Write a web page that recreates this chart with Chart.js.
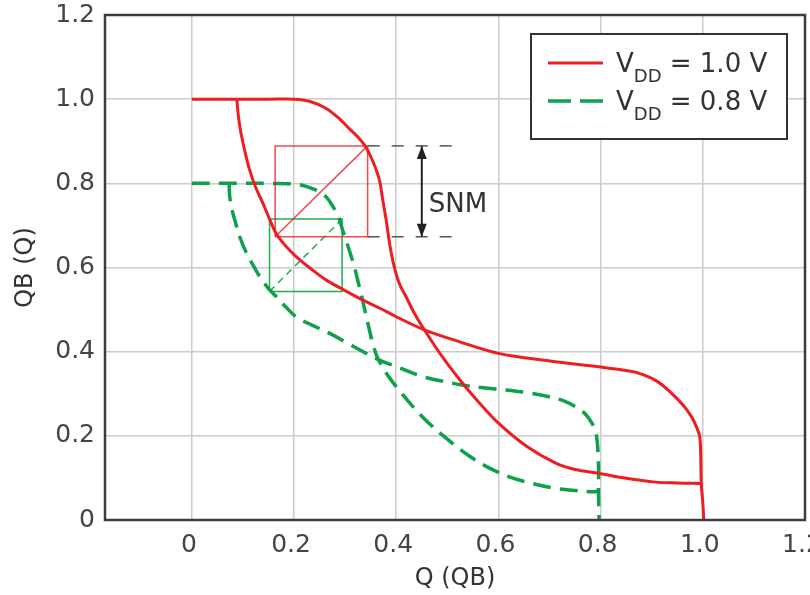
<!DOCTYPE html>
<html lang="en">
<head>
<meta charset="UTF-8">
<title>SRAM butterfly curves - SNM</title>
<style>
    html, body {
        margin: 0;
        padding: 0;
        background: #fff;
    }
    #wrap {
        width: 810px;
        height: 595px;
        position: relative;
    }
</style>
</head>
<body>
<div id="wrap"><canvas id="snmChart"></canvas></div>

<script src="https://cdn.jsdelivr.net/npm/chart.js"></script>
<script>
    // tick labels
    const xTicks = [0, 0.2, 0.4, 0.6, 0.8, 1.0, 1.2];
    const yTicks = [0, 0.2, 0.4, 0.6, 0.8, 1.0, 1.2];

    // VDD = 1.0 V, QB as function of Q
    const red1X = [0, 0.05, 0.1, 0.15, 0.2, 0.23, 0.263, 0.29, 0.308, 0.325, 0.341, 0.355, 0.367, 0.373, 0.38, 0.388, 0.396, 0.406, 0.419, 0.436, 0.455, 0.49, 0.529, 0.565, 0.6, 0.655, 0.712, 0.75, 0.796, 0.85, 0.907, 0.95, 0.995];
    const red1Y = [1.0, 1.0, 1.0, 1.0, 1.0, 0.995, 0.978, 0.952, 0.93, 0.91, 0.885, 0.85, 0.808, 0.765, 0.715, 0.65, 0.602, 0.562, 0.531, 0.49, 0.452, 0.388, 0.326, 0.275, 0.23, 0.175, 0.135, 0.12, 0.111, 0.099, 0.09, 0.088, 0.087];
    // VDD = 1.0 V, mirrored curve
    const red2X = [0.088, 0.091, 0.096, 0.104, 0.113, 0.125, 0.139, 0.152, 0.165, 0.183, 0.204, 0.233, 0.263, 0.3, 0.334, 0.37, 0.4, 0.455, 0.523, 0.6, 0.7, 0.796, 0.84, 0.874, 0.91, 0.939, 0.962, 0.978, 0.988, 0.994, 0.996, 0.997, 1.0, 1.002];
    const red2Y = [1.0, 0.96, 0.92, 0.875, 0.832, 0.79, 0.753, 0.715, 0.681, 0.652, 0.626, 0.597, 0.57, 0.545, 0.523, 0.502, 0.483, 0.452, 0.424, 0.396, 0.378, 0.364, 0.357, 0.349, 0.33, 0.301, 0.272, 0.245, 0.22, 0.198, 0.15, 0.087, 0.04, 0];

    // VDD = 0.8 V
    const green1X = [0, 0.05, 0.1, 0.15, 0.205, 0.23, 0.25, 0.265, 0.276, 0.287, 0.295, 0.307, 0.318, 0.326, 0.334, 0.344, 0.354, 0.364, 0.38, 0.4, 0.43, 0.464, 0.5, 0.536, 0.575, 0.62, 0.665, 0.712, 0.75, 0.79, 0.797];
    const green1Y = [0.8, 0.8, 0.8, 0.8, 0.798, 0.79, 0.78, 0.765, 0.745, 0.72, 0.689, 0.645, 0.602, 0.563, 0.523, 0.47, 0.42, 0.384, 0.35, 0.317, 0.273, 0.23, 0.192, 0.158, 0.128, 0.103, 0.087, 0.075, 0.07, 0.067, 0.072];
    const green2X = [0.073, 0.074, 0.078, 0.084, 0.094, 0.107, 0.12, 0.133, 0.148, 0.165, 0.184, 0.204, 0.235, 0.269, 0.305, 0.341, 0.367, 0.41, 0.451, 0.49, 0.529, 0.57, 0.614, 0.66, 0.699, 0.728, 0.751, 0.77, 0.783, 0.79, 0.793, 0.795, 0.796, 0.796, 0.797];
    const green2Y = [0.8, 0.77, 0.74, 0.713, 0.672, 0.634, 0.605, 0.578, 0.553, 0.531, 0.506, 0.483, 0.463, 0.444, 0.42, 0.396, 0.38, 0.36, 0.341, 0.33, 0.321, 0.314, 0.309, 0.302, 0.293, 0.283, 0.269, 0.252, 0.23, 0.21, 0.19, 0.16, 0.12, 0.06, 0];

    // SNM squares [min, max]
    const redBoxX = [0.163, 0.344];
    const redBoxY = [0.673, 0.889];
    const greenBoxX = [0.152, 0.294];
    const greenBoxY = [0.543, 0.715];

    // SNM marker
    const snmArrowX = 0.45;
    const snmGuideEnd = 0.517;

    const legendNames = [
        { main: 'V', sub: 'DD', rest: ' = 1.0 V' },
        { main: 'V', sub: 'DD', rest: ' = 0.8 V' }
    ];

    const RED = '#ee1d23';
    const GREEN = '#0ea04a';
    const FONT = 'DejaVu Sans';

    function pts(xs, ys) {
        return xs.map((x, i) => ({ x: x, y: ys[i] }));
    }
    function box(bx, by) {
        return [
            { x: bx[0], y: by[0] }, { x: bx[1], y: by[0] },
            { x: bx[1], y: by[1] }, { x: bx[0], y: by[1] },
            { x: bx[0], y: by[0] }
        ];
    }
    function line(color, width, dash, data, tension) {
        return {
            data: data,
            showLine: true,
            borderColor: color,
            borderWidth: width,
            borderDash: dash || [],
            pointRadius: 0,
            pointHoverRadius: 0,
            fill: false,
            tension: tension || 0
        };
    }

    const datasets = [
        line(RED, 3, null, pts(red1X, red1Y), 0.35),
        line(RED, 3, null, pts(red2X, red2Y), 0.35),
        line('rgba(238,29,35,0.8)', 1.5, null, box(redBoxX, redBoxY)),
        line('rgba(238,29,35,0.8)', 1.5, null, [{ x: redBoxX[0], y: redBoxY[0] }, { x: redBoxX[1], y: redBoxY[1] }]),
        line(GREEN, 3.5, [18, 9], pts(green1X, green1Y), 0.35),
        line(GREEN, 3.5, [18, 9], pts(green2X, green2Y), 0.35),
        line('#1fae55', 1.5, null, box(greenBoxX, greenBoxY)),
        line('#1fae55', 1.5, [7, 5], [{ x: greenBoxX[0], y: greenBoxY[0] }, { x: greenBoxX[1], y: greenBoxY[1] }]),
        // SNM guides
        line('#555', 1.5, [12, 12], [{ x: redBoxX[1], y: redBoxY[1] }, { x: snmGuideEnd, y: redBoxY[1] }]),
        line('#555', 1.5, [12, 12], [{ x: redBoxX[1], y: redBoxY[0] }, { x: snmGuideEnd, y: redBoxY[0] }]),
        line('#222', 2, null, [{ x: snmArrowX, y: redBoxY[0] }, { x: snmArrowX, y: redBoxY[1] }])
    ];

    const decor = {
        id: 'decor',
        afterDatasetsDraw(chart) {
            const ctx = chart.ctx;
            const a = chart.chartArea;
            const xs = chart.scales.x, ys = chart.scales.y;

            // arrow heads + SNM label
            const ax = xs.getPixelForValue(snmArrowX);
            const top = ys.getPixelForValue(redBoxY[1]);
            const bot = ys.getPixelForValue(redBoxY[0]);
            ctx.save();
            ctx.fillStyle = '#222';
            ctx.beginPath();
            ctx.moveTo(ax, top); ctx.lineTo(ax - 5, top + 13); ctx.lineTo(ax + 5, top + 13); ctx.closePath();
            ctx.moveTo(ax, bot); ctx.lineTo(ax - 5, bot - 13); ctx.lineTo(ax + 5, bot - 13); ctx.closePath();
            ctx.fill();
            ctx.fillStyle = '#333';
            ctx.font = '26px "' + FONT + '"';
            ctx.textBaseline = 'middle';
            ctx.textAlign = 'left';
            ctx.fillText('SNM', ax + 7, (top + bot) / 2 + 14);

            // frame
            ctx.strokeStyle = '#3c3c3c';
            ctx.lineWidth = 2.5;
            ctx.strokeRect(a.left, a.top, a.right - a.left, a.bottom - a.top);
            ctx.restore();
        },
        afterDraw(chart) {
            const ctx = chart.ctx;
            const a = chart.chartArea;
            const bx = a.right - 274, by = a.top + 19, bw = 256, bh = 105;
            ctx.save();
            ctx.fillStyle = '#fff';
            ctx.fillRect(bx, by, bw, bh);
            ctx.strokeStyle = '#333';
            ctx.lineWidth = 2;
            ctx.strokeRect(bx, by, bw, bh);

            const rows = [
                { color: RED, width: 3, dash: [], y: by + 29 },
                { color: GREEN, width: 3.5, dash: [23, 9], y: by + 67 }
            ];
            rows.forEach((r, i) => {
                ctx.strokeStyle = r.color;
                ctx.lineWidth = r.width;
                ctx.setLineDash(r.dash);
                ctx.beginPath();
                ctx.moveTo(bx + 17, r.y);
                ctx.lineTo(bx + 72, r.y);
                ctx.stroke();
                ctx.setLineDash([]);

                const n = legendNames[i];
                const base = r.y + 9;
                let tx = bx + 85;
                ctx.fillStyle = '#333';
                ctx.textBaseline = 'alphabetic';
                ctx.textAlign = 'left';
                ctx.font = '26px "' + FONT + '"';
                ctx.fillText(n.main, tx, base);
                tx += ctx.measureText(n.main).width;
                ctx.font = '18px "' + FONT + '"';
                ctx.fillText(n.sub, tx, base + 10);
                tx += ctx.measureText(n.sub).width;
                ctx.font = '26px "' + FONT + '"';
                ctx.fillText(n.rest, tx, base);
            });
            ctx.restore();
        }
    };

    const tickFont = { family: FONT, size: 25 };
    const fmt = v => (v === 0 ? '0' : Number(v).toFixed(1));

    window.onload = function() {
        const ctx = document.getElementById('snmChart').getContext('2d');
        window.snmChart = new Chart(ctx, {
            type: 'scatter',
            data: { datasets: datasets },
            options: {
                responsive: true,
                maintainAspectRatio: false,
                animation: false,
                events: [],
                layout: { padding: { left: 0, right: 5, top: 15, bottom: 0 } },
                plugins: {
                    legend: { display: false },
                    tooltip: { enabled: false }
                },
                scales: {
                    x: {
                        type: 'linear',
                        min: -0.17,
                        max: 1.2,
                        afterBuildTicks: s => { s.ticks = xTicks.map(v => ({ value: v })); },
                        afterFit: s => { s.height = 75; s.paddingLeft = 0; s.paddingRight = 0; },
                        grid: { color: '#cccccc', lineWidth: 1.5, drawTicks: false },
                        border: { display: false },
                        ticks: { padding: 10, labelOffset: -3, color: '#444', font: tickFont, callback: fmt, autoSkip: false, maxRotation: 0 },
                        title: { display: true, text: 'Q (QB)', color: '#333', font: { family: FONT, size: 24 }, padding: { top: 0, bottom: 2 } }
                    },
                    y: {
                        type: 'linear',
                        min: 0,
                        max: 1.2,
                        afterBuildTicks: s => { s.ticks = yTicks.map(v => ({ value: v })); },
                        afterFit: s => { s.width = 105; s.paddingTop = 0; s.paddingBottom = 0; },
                        grid: { color: '#cccccc', lineWidth: 1.5, drawTicks: false },
                        border: { display: false },
                        ticks: { padding: 10, color: '#444', font: tickFont, callback: fmt, autoSkip: false },
                        title: { display: true, text: 'QB (Q)', color: '#333', font: { family: FONT, size: 24 }, padding: { top: 11, bottom: 0 } }
                    }
                }
            },
            plugins: [decor]
        });
    };
</script>
</body>
</html>
